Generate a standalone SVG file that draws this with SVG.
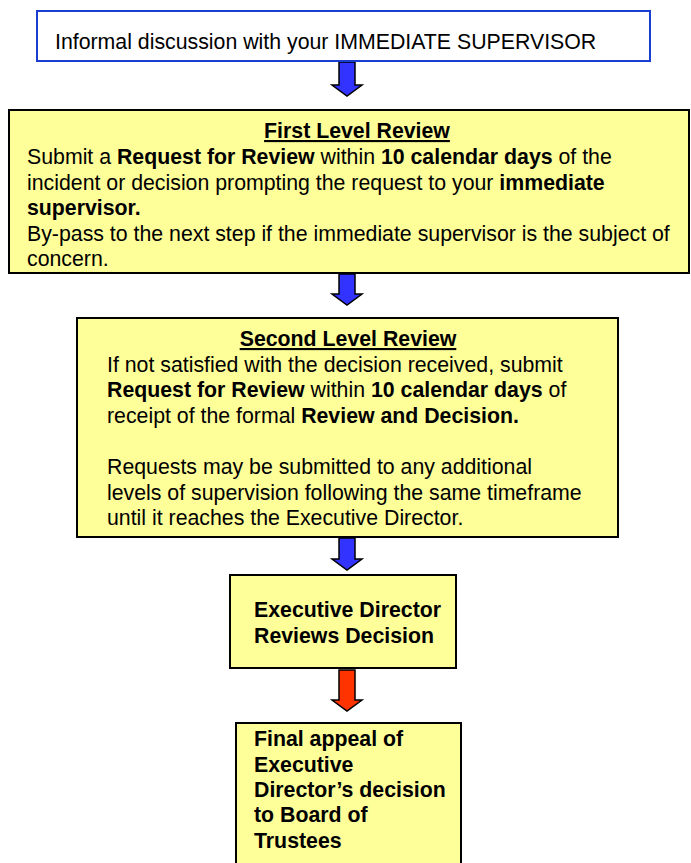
<svg xmlns="http://www.w3.org/2000/svg" width="691" height="863" viewBox="0 0 691 863">
<defs>
<style>
text{font-family:"Liberation Sans",Arial,sans-serif;font-size:21.3px;fill:#000}
.b{font-weight:bold}
.u{text-decoration:underline;font-weight:bold}
.box{fill:#FFFF99;stroke:#000;stroke-width:2}
.blue{fill:#3333FF;stroke:#000;stroke-width:1.5;stroke-linejoin:miter}
.red{fill:#FF3300;stroke:#000;stroke-width:1.5}
</style>
</defs>
<rect width="691" height="863" fill="#fff"/>
<g id="connectors">
<path class="blue" d="M339,62 H355 V85 H362 L347,96 L332,85 H339 Z"/>
<path class="blue" d="M339,274 H355 V294 H362 L347,305 L332,294 H339 Z"/>
<path class="blue" d="M339,538 H355 V559 H362 L347,570 L332,559 H339 Z"/>
<path class="red" d="M339,670 H355 V700 H362 L347,711 L332,700 H339 Z"/>
</g>
<g id="informal">
<rect x="37" y="11" width="613" height="50" fill="#fff" stroke="#1a3fd0" stroke-width="2"/>
<text x="55" y="49">Informal discussion with your IMMEDIATE SUPERVISOR</text>
</g>
<g id="first">
<rect class="box" x="9" y="110" width="680" height="163"/>
<text class="u" x="357" y="138" text-anchor="middle">First Level Review</text>
<text x="27" y="164">Submit a <tspan class="b">Request for Review</tspan> within <tspan class="b">10 calendar days</tspan> of the</text>
<text x="27" y="190">incident or decision prompting the request to your <tspan class="b">immediate</tspan></text>
<text x="27" y="215" class="b">supervisor.</text>
<text x="27" y="241">By-pass to the next step if the immediate supervisor is the subject of</text>
<text x="27" y="266">concern.</text>
</g>
<g id="second">
<rect class="box" x="77" y="318" width="541" height="219"/>
<text class="u" x="348" y="346" text-anchor="middle">Second Level Review</text>
<text x="107" y="372">If not satisfied with the decision received, submit</text>
<text x="107" y="397"><tspan class="b">Request for Review</tspan> within <tspan class="b">10 calendar days</tspan> of</text>
<text x="107" y="423">receipt of the formal <tspan class="b">Review and Decision.</tspan></text>
<text x="107" y="474">Requests may be submitted to any additional</text>
<text x="107" y="500">levels of supervision following the same timeframe</text>
<text x="107" y="525">until it reaches the Executive Director.</text>
</g>
<g id="executive">
<rect class="box" x="230" y="575" width="226" height="93"/>
<text class="b" x="254" y="617">Executive Director</text>
<text class="b" x="254" y="643">Reviews Decision</text>
</g>
<g id="final">
<rect class="box" x="236" y="723" width="225" height="150"/>
<text class="b" x="254" y="746">Final appeal of</text>
<text class="b" x="254" y="772">Executive</text>
<text class="b" x="254" y="797">Director’s decision</text>
<text class="b" x="254" y="822">to Board of</text>
<text class="b" x="254" y="848">Trustees</text>
</g>
</svg>
